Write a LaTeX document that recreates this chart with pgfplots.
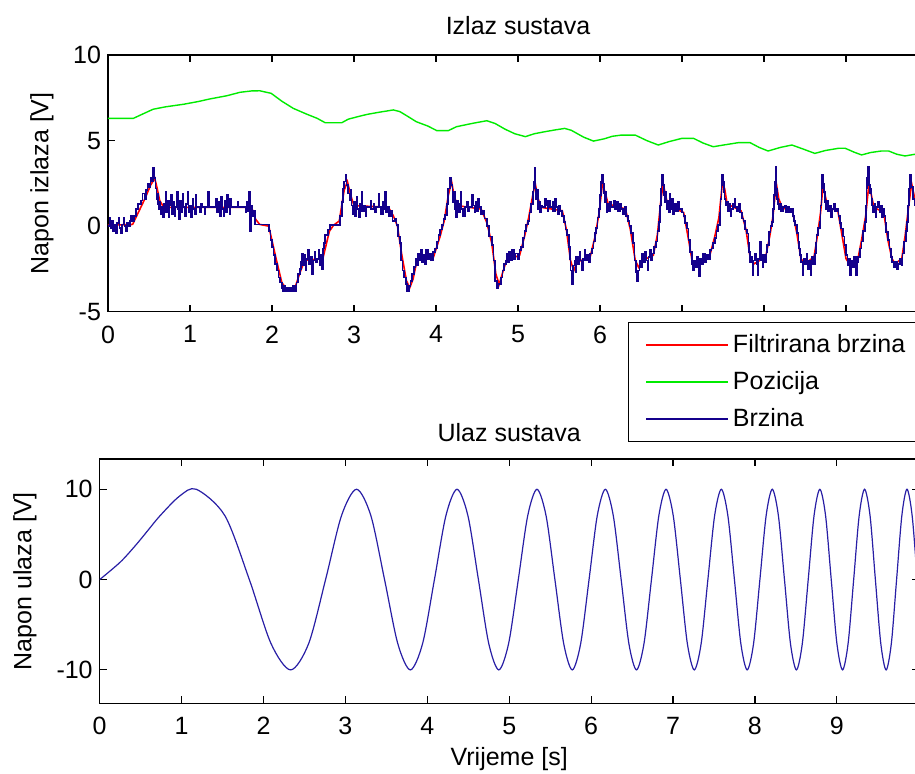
\documentclass[border=0pt]{standalone}
\usepackage{fontspec}
\setmainfont{Liberation Sans}
\usepackage{pgfplots}
\pgfplotsset{compat=1.18}
\definecolor{cred}{RGB}{255,0,0}
\definecolor{cgreen}{RGB}{0,235,0}
\definecolor{cblue}{RGB}{20,0,140}
\definecolor{csine}{RGB}{40,30,165}
\newcommand{\mf}{\fontsize{12.5}{15}\selectfont}
\begin{document}
\begin{tikzpicture}
\useasboundingbox (0,0) rectangle (457.5pt,386.5pt);
\clip (0,0) rectangle (457.5pt,386.5pt);
\pgfplotsset{
  mystyle/.style={
    scale only axis,
    xmin=0, xmax=10,
    xtick={0,1,2,3,4,5,6,7,8,9,10},
    xticklabels={0,1,2,3,4,5,6,7,8,9,},
    tick align=inside,
    xtick pos=both, ytick pos=both,
    major tick length=3.5pt,
    axis line style={line width=0.6pt},
    every tick/.style={black, line width=0.6pt},
    /pgf/number format/assume math mode=true,
    tick label style={font=\mf},
    xticklabel style={yshift=-3.5pt},
    label style={font=\mf},
    title style={font=\mf},
    every axis title shift=0pt,
  }
}
\begin{axis}[mystyle,
  at={(54pt,230.65pt)}, anchor=south west,
  width=410pt, height=128.35pt,
  ymin=-5, ymax=10, ytick={-5,0,5,10},
  ylabel={Napon izlaza [V]},
  ylabel style={at={(axis description cs:-0.0805,0.5)}, anchor=center},
  title={Izlaz sustava},
  title style={at={(axis description cs:0.5,1.113)}, anchor=center},
  legend style={at={(axis description cs:0.634,-0.040)}, anchor=north west,
    draw=black, line width=0.5pt, fill=white, font=\mf,
    inner xsep=8.5pt, inner ysep=4pt, row sep=4pt, cells={anchor=west}},
  legend image code/.code={\draw[#1, line width=0.8pt] (0pt,0pt) -- (41pt,0pt);},
]
\addplot[draw=cred, line width=0.8pt] coordinates {
(0,0.05) (0.3,0.1) (0.35,0.6) (0.45,1.6) (0.52,2.4) (0.57,2.8) (0.6,2.2) (0.63,1.5) (0.68,1.1) (1.75,1.1) (1.80,0.4) (1.85,0.1) (1.96,0.0) (2.05,-1.9) (2.12,-3.3) (2.18,-3.7) (2.28,-3.6) (2.35,-2.6) (2.40,-2.0) (2.62,-1.9) (2.70,-0.3) (2.75,0.05) (2.82,0.3) (2.88,2.1) (2.92,2.6) (2.96,1.8) (3.0,1.2) (3.42,1.1) (3.48,0.6) (3.53,0.0) (3.58,-1.6) (3.64,-3.2) (3.68,-3.6) (3.72,-3.1) (3.76,-2.2) (3.80,-1.9) (3.97,-1.8) (4.05,-0.6) (4.10,0.3) (4.15,1.8) (4.19,2.6) (4.22,1.8) (4.26,1.2) (4.55,1.0) (4.62,0.2) (4.68,-1.0) (4.73,-2.8) (4.77,-3.4) (4.82,-2.6) (4.86,-2.0) (5.02,-1.7) (5.08,-0.6) (5.13,0.5) (5.18,1.8) (5.21,2.5) (5.24,1.7) (5.28,1.1) (5.54,0.9) (5.59,-0.2) (5.64,-2.0) (5.68,-2.6) (5.72,-2.1) (5.88,-1.8) (5.94,-0.6) (5.99,0.8) (6.03,2.5) (6.06,2.0) (6.10,1.3) (6.31,1.0) (6.37,-0.2) (6.43,-2.0) (6.47,-2.4) (6.52,-2.0) (6.65,-1.7) (6.70,-0.5) (6.74,1.4) (6.77,2.5) (6.80,1.8) (6.83,1.2) (7.02,0.8) (7.08,-0.8) (7.13,-2.2) (7.17,-2.3) (7.34,-1.7) (7.40,-0.6) (7.45,0.5) (7.49,2.4) (7.52,2.2) (7.55,1.3) (7.72,0.9) (7.78,-0.2) (7.83,-1.8) (7.88,-2.2) (8.02,-1.8) (8.07,-0.6) (8.11,0.6) (8.15,2.5) (8.18,1.6) (8.22,1.1) (8.35,0.8) (8.40,-0.4) (8.45,-1.9) (8.50,-2.2) (8.61,-1.8) (8.65,-0.6) (8.69,0.8) (8.72,2.4) (8.75,1.7) (8.78,1.1) (8.90,0.9) (8.95,-0.5) (9.00,-1.9) (9.04,-2.2) (9.15,-1.8) (9.19,-0.8) (9.24,0.6) (9.28,2.5) (9.31,1.8) (9.34,1.1) (9.46,0.8) (9.51,-0.8) (9.56,-1.9) (9.60,-2.2) (9.68,-1.9) (9.72,-0.6) (9.76,1.0) (9.80,2.5) (9.83,1.8) (9.86,1.1) (10,1.0)
};
\addlegendentry{Filtrirana brzina}
\addplot[draw=cgreen, line width=0.7pt] coordinates {
(0,6.30) (0.31,6.30) (0.40,6.50) (0.55,6.83) (0.70,6.97) (0.92,7.12) (1.10,7.28) (1.24,7.43) (1.45,7.62) (1.61,7.82) (1.75,7.90) (1.85,7.91) (1.99,7.76) (2.12,7.30) (2.26,6.88) (2.42,6.55) (2.55,6.30) (2.65,6.04) (2.85,6.04) (2.93,6.25) (3.05,6.40) (3.16,6.53) (3.30,6.65) (3.48,6.79) (3.56,6.69) (3.66,6.40) (3.76,6.10) (3.90,5.85) (4.01,5.58) (4.15,5.58) (4.25,5.81) (4.45,6.01) (4.62,6.16) (4.72,6.00) (4.84,5.67) (4.96,5.40) (5.09,5.23) (5.20,5.40) (5.33,5.52) (5.45,5.62) (5.57,5.71) (5.65,5.60) (5.80,5.20) (5.92,4.97) (6.05,5.10) (6.15,5.25) (6.26,5.32) (6.43,5.32) (6.57,5.00) (6.71,4.74) (6.85,4.95) (7.00,5.13) (7.14,5.13) (7.26,4.85) (7.38,4.64) (7.52,4.75) (7.69,4.88) (7.83,4.88) (7.94,4.60) (8.05,4.39) (8.20,4.60) (8.34,4.74) (8.48,4.50) (8.62,4.25) (8.75,4.42) (8.91,4.55) (8.99,4.55) (9.10,4.32) (9.19,4.16) (9.30,4.30) (9.43,4.39) (9.52,4.39) (9.62,4.20) (9.72,4.10) (9.84,4.20) (9.95,4.05) (10.0,4.00)
};
\addlegendentry{Pozicija}
\addplot[draw=cblue, line width=0.85pt, const plot] table {
0.00 0.0
0.02 0.5
0.03 -0.1
0.05 0.3
0.06 -0.3
0.08 0.1
0.10 -0.4
0.11 0.2
0.13 0.5
0.14 -0.1
0.16 -0.4
0.17 0.1
0.19 0.5
0.20 0.0
0.22 -0.3
0.23 0.2
0.25 0.0
0.27 0.3
0.28 0.6
0.30 0.3
0.32 0.6
0.34 1.0
0.37 1.3
0.40 1.5
0.42 1.9
0.45 1.6
0.46 2.1
0.48 2.5
0.50 2.3
0.52 2.8
0.54 2.6
0.55 3.4
0.56 2.8
0.58 2.2
0.59 1.6
0.60 1.9
0.61 1.3
0.62 1.0
0.63 1.4
0.64 0.7
0.65 1.1
0.67 0.5
0.68 1.3
0.70 2.0
0.71 0.8
0.73 1.5
0.74 0.5
0.75 1.2
0.77 1.8
0.78 0.7
0.80 1.4
0.81 0.6
0.82 1.1
0.84 2.0
0.85 1.0
0.87 0.4
0.88 1.5
0.90 0.8
0.91 1.9
0.92 1.1
0.94 0.6
0.95 1.3
0.97 2.0
0.98 0.8
1.00 1.2
1.01 0.5
1.03 1.6
1.04 1.0
1.06 0.7
1.07 1.8
1.08 1.1
1.12 0.8
1.13 1.3
1.15 1.1
1.18 0.7
1.19 1.1
1.22 2.0
1.23 1.1
1.27 1.1
1.30 1.1
1.32 1.6
1.33 0.8
1.35 1.4
1.36 0.6
1.38 1.7
1.39 1.0
1.41 0.6
1.42 1.5
1.44 0.8
1.45 1.8
1.46 1.1
1.48 0.7
1.49 1.6
1.50 1.1
1.55 1.1
1.58 1.4
1.59 1.1
1.64 1.1
1.68 0.8
1.69 1.4
1.71 0.9
1.72 2.0
1.73 -0.3
1.74 1.2
1.76 0.6
1.78 0.9
1.79 0.1
1.96 -0.3
1.98 -0.8
2.00 -1.2
2.02 -1.7
2.04 -2.2
2.06 -2.6
2.08 -3.0
2.10 -3.3
2.12 -3.6
2.13 -3.8
2.15 -3.5
2.16 -3.8
2.18 -3.6
2.20 -3.8
2.22 -3.6
2.24 -3.8
2.26 -3.5
2.28 -3.8
2.30 -3.3
2.32 -2.8
2.34 -2.5
2.35 -2.1
2.36 -1.6
2.38 -2.3
2.39 -1.7
2.41 -2.6
2.42 -1.9
2.44 -1.4
2.45 -2.2
2.47 -1.8
2.49 -2.8
2.50 -2.0
2.52 -1.5
2.53 -2.1
2.55 -1.9
2.57 -1.4
2.58 -2.3
2.60 -1.7
2.61 -2.5
2.62 -1.3
2.63 -1.0
2.65 -0.5
2.68 -0.2
2.71 0.05
2.81 0.05
2.83 0.6
2.85 1.4
2.87 2.2
2.88 2.6
2.90 3.0
2.91 2.4
2.93 1.9
2.95 1.5
2.96 2.1
2.97 1.2
2.99 0.7
3.00 1.4
3.01 0.6
3.03 1.7
3.04 1.0
3.06 0.5
3.07 1.3
3.09 2.0
3.10 0.9
3.12 1.2
3.14 0.6
3.15 1.1
3.18 1.1
3.20 1.5
3.21 1.0
3.24 1.3
3.25 0.8
3.27 1.1
3.30 1.9
3.31 1.1
3.33 0.7
3.35 1.4
3.36 1.0
3.38 2.0
3.39 0.8
3.41 1.1
3.43 0.6
3.45 0.9
3.47 0.3
3.50 0.4
3.52 0.06
3.54 -0.6
3.56 -1.0
3.57 -2.0
3.59 -2.6
3.61 -3.0
3.63 -3.4
3.65 -3.8
3.67 -3.5
3.69 -3.2
3.71 -2.8
3.73 -2.4
3.75 -1.9
3.77 -2.3
3.78 -1.6
3.80 -2.0
3.82 -1.4
3.83 -2.1
3.85 -1.7
3.87 -2.2
3.88 -1.4
3.90 -1.9
3.92 -1.6
3.94 -2.0
3.96 -1.5
3.99 -1.3
4.01 -0.9
4.03 -0.5
4.05 -0.2
4.07 0.06
4.09 0.4
4.11 0.65
4.13 1.3
4.15 2.2
4.17 2.8
4.18 2.4
4.20 1.9
4.21 1.4
4.22 2.0
4.23 1.0
4.24 0.5
4.26 1.5
4.27 0.8
4.29 1.3
4.30 2.0
4.31 1.0
4.33 0.6
4.35 1.1
4.38 1.4
4.39 0.9
4.41 1.1
4.44 1.8
4.45 1.2
4.47 0.8
4.48 1.4
4.50 0.9
4.51 1.6
4.53 1.1
4.55 0.7
4.57 0.9
4.59 0.45
4.62 0.0
4.65 -0.6
4.68 -1.1
4.70 -2.0
4.72 -3.2
4.74 -3.6
4.76 -3.4
4.79 -3.0
4.81 -2.6
4.83 -2.2
4.85 -2.0
4.86 -1.6
4.88 -2.1
4.89 -1.5
4.91 -2.0
4.93 -1.4
4.95 -1.9
4.97 -1.6
5.00 -1.9
5.02 -1.4
5.04 -1.2
5.06 -0.7
5.08 -0.3
5.10 0.1
5.12 0.3
5.14 0.8
5.16 1.3
5.18 2.0
5.19 2.6
5.20 3.4
5.21 2.2
5.22 1.6
5.23 2.1
5.24 1.0
5.25 1.4
5.27 0.8
5.28 1.2
5.30 1.1
5.33 1.6
5.34 1.2
5.36 0.9
5.37 1.5
5.39 1.1
5.42 1.4
5.43 0.9
5.45 1.6
5.46 1.1
5.48 0.7
5.50 1.2
5.52 0.9
5.54 0.6
5.56 0.26
5.58 -0.2
5.60 -0.5
5.62 -1.2
5.63 -1.9
5.64 -2.6
5.66 -3.4
5.67 -2.3
5.69 -2.0
5.70 -2.7
5.71 -1.8
5.73 -2.2
5.75 -1.5
5.76 -2.0
5.78 -2.6
5.79 -1.9
5.81 -1.4
5.82 -2.0
5.84 -1.7
5.86 -2.1
5.88 -1.6
5.90 -1.3
5.92 -0.9
5.94 -0.4
5.95 -0.1
5.97 0.5
5.99 1.0
6.00 1.8
6.01 2.6
6.02 3.0
6.04 2.5
6.05 1.9
6.06 1.4
6.07 2.0
6.08 0.8
6.09 1.3
6.11 0.9
6.12 1.4
6.14 1.1
6.17 1.5
6.18 1.0
6.20 1.4
6.22 0.9
6.24 1.3
6.26 1.0
6.28 0.7
6.30 1.1
6.32 0.6
6.34 0.3
6.36 0.0
6.38 -0.4
6.40 -1.0
6.42 -2.0
6.44 -2.7
6.45 -3.2
6.46 -2.6
6.48 -2.0
6.50 -2.4
6.51 -1.6
6.53 -2.1
6.55 -1.5
6.56 -2.0
6.58 -2.6
6.59 -1.8
6.61 -1.4
6.62 -2.0
6.64 -1.6
6.66 -1.2
6.68 -0.9
6.70 -0.3
6.72 0.26
6.73 1.2
6.74 2.2
6.75 3.0
6.77 2.4
6.78 1.8
6.79 1.4
6.80 2.0
6.81 1.0
6.82 1.5
6.84 0.8
6.85 1.9
6.86 1.0
6.88 1.6
6.89 0.7
6.91 1.3
6.93 0.9
6.95 1.4
6.97 1.0
7.00 0.8
7.02 0.6
7.04 0.2
7.06 -0.13
7.08 -0.8
7.10 -1.5
7.12 -2.2
7.13 -2.6
7.15 -2.0
7.16 -2.4
7.18 -1.8
7.20 -2.3
7.21 -2.9
7.22 -1.9
7.24 -2.2
7.26 -1.6
7.28 -2.1
7.30 -1.7
7.32 -1.9
7.34 -1.4
7.36 -1.3
7.38 -1.0
7.40 -0.7
7.42 -0.3
7.44 0.06
7.46 0.8
7.47 1.6
7.48 2.4
7.49 3.0
7.50 2.6
7.51 2.0
7.52 1.6
7.53 1.2
7.54 1.4
7.56 0.9
7.57 1.3
7.59 0.6
7.60 1.0
7.62 1.3
7.64 1.6
7.65 1.1
7.67 0.9
7.69 1.3
7.71 0.8
7.73 0.45
7.75 0.3
7.77 -0.2
7.79 -0.43
7.81 -1.0
7.82 -1.5
7.83 -2.1
7.85 -1.8
7.86 -2.85
7.87 -2.0
7.89 -1.6
7.91 -2.2
7.92 -2.85
7.93 -1.9
7.95 -0.9
7.96 -2.0
7.98 -2.4
7.99 -1.7
8.01 -2.1
8.03 -1.5
8.04 -1.1
8.06 -0.33
8.08 0.0
8.10 0.26
8.11 1.0
8.12 1.8
8.13 2.6
8.14 3.47
8.15 2.2
8.16 1.6
8.17 1.3
8.18 1.0
8.20 1.3
8.21 0.9
8.23 1.1
8.25 1.2
8.27 0.8
8.29 1.1
8.31 0.8
8.33 1.0
8.35 0.6
8.37 0.3
8.38 0.06
8.40 -0.4
8.42 -0.9
8.43 -1.3
8.44 -1.7
8.45 -2.1
8.47 -2.85
8.48 -1.9
8.50 -2.2
8.52 -1.6
8.53 -2.5
8.55 -2.0
8.57 -2.85
8.58 -1.8
8.60 -2.2
8.62 -1.6
8.63 -1.0
8.64 -0.52
8.66 -0.1
8.68 0.26
8.69 1.2
8.70 2.2
8.71 3.0
8.72 2.5
8.73 2.0
8.74 1.4
8.76 1.0
8.77 1.5
8.78 0.9
8.80 1.2
8.82 0.5
8.83 1.0
8.85 1.3
8.87 0.9
8.89 1.0
8.91 0.6
8.93 0.2
8.94 -0.13
8.96 -0.6
8.98 -1.1
9.00 -1.7
9.02 -2.27
9.03 -1.9
9.05 -2.85
9.06 -2.0
9.08 -2.4
9.10 -1.8
9.12 -2.85
9.13 -2.1
9.15 -1.8
9.17 -1.3
9.19 -0.9
9.21 -0.3
9.23 0.26
9.24 1.2
9.25 2.2
9.26 2.8
9.27 3.47
9.28 2.4
9.29 1.9
9.30 2.2
9.31 1.62
9.32 1.2
9.33 0.8
9.35 1.3
9.36 0.5
9.37 1.1
9.39 1.4
9.41 0.8
9.43 1.2
9.44 0.5
9.45 1.0
9.47 0.6
9.48 0.2
9.49 -0.33
9.51 -0.8
9.53 -1.3
9.55 -1.8
9.56 -2.08
9.58 -2.4
9.60 -2.1
9.62 -2.5
9.64 -2.2
9.66 -1.9
9.68 -2.3
9.69 -1.6
9.71 -0.9
9.73 -0.3
9.74 0.26
9.76 1.2
9.77 2.2
9.78 3.0
9.80 2.3
9.82 1.6
9.84 1.2
9.86 0.9
9.88 1.3
9.90 0.9
9.93 1.1
9.96 0.8
10.0 1.0
};
\addlegendentry{Brzina}
\end{axis}
\begin{axis}[mystyle,
  at={(49.85pt,34.85pt)}, anchor=south west,
  width=409.5pt, height=122.15pt,
  ymin=-13.7, ymax=13.35, ytick={-10,0,10},
  ylabel={Napon ulaza [V]},
  ylabel style={at={(axis description cs:-0.0912,0.5)}, anchor=center},
  xlabel={Vrijeme [s]},
  xlabel style={at={(axis description cs:0.5,-0.228)}, anchor=center},
  title={Ulaz sustava},
  title style={at={(axis description cs:0.5,1.11)}, anchor=center},
]
\addplot[draw=csine, line width=0.6pt, smooth] coordinates {
(0,0) (0.253,1.95) (0.442,3.83) (0.599,5.56) (0.737,7.07) (0.975,9.24) (1.180,10) (1.529,7.07) (1.827,0) (2.091,-7.07) (2.331,-10) (2.552,-7.07) (2.758,0) (2.952,7.07) (3.136,10) (3.311,7.07) (3.478,0) (3.639,-7.07) (3.793,-10) (3.943,-7.07) (4.087,0) (4.227,7.07) (4.363,10) (4.496,7.07) (4.624,0) (4.750,-7.07) (4.873,-10) (4.993,-7.07) (5.111,0) (5.226,7.07) (5.339,10) (5.450,7.07) (5.558,0) (5.665,-7.07) (5.770,-10) (5.873,-7.07) (5.975,0) (6.075,7.07) (6.174,10) (6.271,7.07) (6.367,0) (6.461,-7.07) (6.554,-10) (6.646,-7.07) (6.737,0) (6.827,7.07) (6.915,10) (7.003,7.07) (7.090,0) (7.175,-7.07) (7.260,-10) (7.344,-7.07) (7.426,0) (7.508,7.07) (7.590,10) (7.670,7.07) (7.750,0) (7.828,-7.07) (7.906,-10) (7.984,-7.07) (8.061,0) (8.137,7.07) (8.212,10) (8.287,7.07) (8.361,0) (8.434,-7.07) (8.507,-10) (8.579,-7.07) (8.651,0) (8.722,7.07) (8.793,10) (8.863,7.07) (8.932,0) (9.001,-7.07) (9.070,-10) (9.138,-7.07) (9.206,0) (9.273,7.07) (9.339,10) (9.406,7.07) (9.471,0) (9.537,-7.07) (9.602,-10) (9.666,-7.07) (9.730,0) (9.794,7.07) (9.857,10) (9.920,7.07) (9.983,0) (10.045,-7.07)
};
\end{axis}
\end{tikzpicture}
\end{document}
